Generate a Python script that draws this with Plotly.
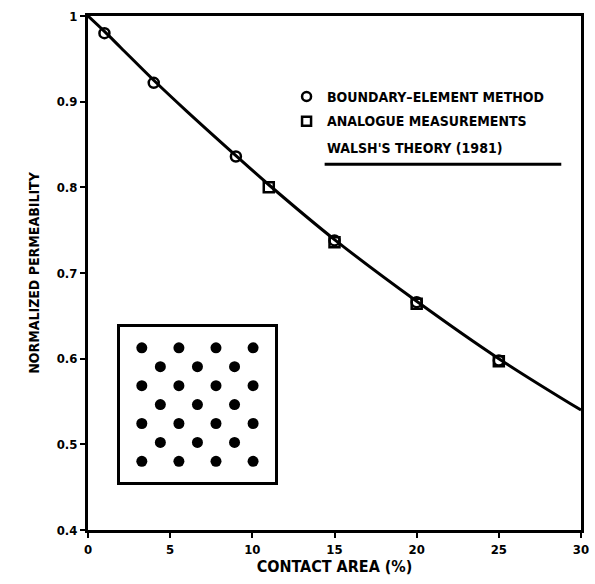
import plotly.graph_objects as go

# Walsh's theory (1981): normalized permeability vs contact area
theory_x = [0, 1, 2, 4, 6, 9, 11, 15, 20, 25, 30]
theory_y = [1.0, 0.982, 0.963, 0.925, 0.889, 0.837, 0.803, 0.739, 0.667, 0.600, 0.540]

# Boundary-element method results
bem_x = [1, 4, 9, 15, 20, 25]
bem_y = [0.980, 0.922, 0.836, 0.738, 0.666, 0.598]

# Analogue measurements
ana_x = [11, 15, 20, 25]
ana_y = [0.800, 0.736, 0.664, 0.597]

x_ticks = [0, 5, 10, 15, 20, 25, 30]
y_ticks = [0.4, 0.5, 0.6, 0.7, 0.8, 0.9, 1.0]
y_tick_text = ["0.4", "0.5", "0.6", "0.7", "0.8", "0.9", "1"]

# Staggered contact-spot lattice shown in the inset
long_row_x = [1, 3, 5, 7]
short_row_x = [2, 4, 6]
row_y = [7, 6, 5, 4, 3, 2, 1]

FONT = "Liberation Sans Narrow, DejaVu Sans Condensed, Arial, sans-serif"

fig = go.Figure()

fig.add_trace(go.Scatter(
    x=theory_x, y=theory_y, mode="lines",
    line=dict(color="black", width=3, shape="spline"),
    showlegend=False, hoverinfo="skip"))

fig.add_trace(go.Scatter(
    x=bem_x, y=bem_y, mode="markers",
    marker=dict(symbol="circle-open", size=10, color="black", line=dict(width=2.5)),
    showlegend=False))

fig.add_trace(go.Scatter(
    x=ana_x, y=ana_y, mode="markers",
    marker=dict(symbol="square-open", size=10, color="black", line=dict(width=2.5)),
    showlegend=False))

# Inset lattice
dots_x, dots_y = [], []
for i, ry in enumerate(row_y):
    cols = long_row_x if i % 2 == 0 else short_row_x
    for cx in cols:
        dots_x.append(cx)
        dots_y.append(ry)

fig.add_trace(go.Scatter(
    x=dots_x, y=dots_y, mode="markers", xaxis="x2", yaxis="y2",
    marker=dict(symbol="circle", size=11, color="black"),
    showlegend=False, hoverinfo="skip"))

# Legend drawn inside the plot area
fig.add_trace(go.Scatter(
    x=[13.3], y=[0.906], mode="markers",
    marker=dict(symbol="circle-open", size=9, color="black", line=dict(width=2.5)),
    showlegend=False, hoverinfo="skip"))
fig.add_trace(go.Scatter(
    x=[13.3], y=[0.877], mode="markers",
    marker=dict(symbol="square-open", size=9, color="black", line=dict(width=2.5)),
    showlegend=False, hoverinfo="skip"))
fig.add_trace(go.Scatter(
    x=[14.4, 28.8], y=[0.827, 0.827], mode="lines",
    line=dict(color="black", width=3),
    showlegend=False, hoverinfo="skip"))

legend_font = dict(family=FONT, size=14, color="black", weight="bold")
fig.add_annotation(x=14.4, y=0.906, text="BOUNDARY–ELEMENT METHOD", showarrow=False,
                   xanchor="left", yanchor="middle", font=legend_font)
fig.add_annotation(x=14.4, y=0.877, text="ANALOGUE MEASUREMENTS", showarrow=False,
                   xanchor="left", yanchor="middle", font=legend_font)
fig.add_annotation(x=14.4, y=0.846, text="WALSH'S THEORY (1981)", showarrow=False,
                   xanchor="left", yanchor="middle", font=legend_font)

axis_common = dict(
    showline=True, linecolor="black", linewidth=3, mirror=True,
    ticks="outside", ticklen=5, tickwidth=2, tickcolor="black",
    showgrid=False, zeroline=False,
    tickfont=dict(family=FONT, size=13, color="black", weight="bold"),
)

fig.update_layout(
    width=595, height=584,
    margin=dict(l=88, r=6, t=16, b=54),
    paper_bgcolor="white", plot_bgcolor="white",
    xaxis=dict(range=[0, 30], tickvals=x_ticks, ticktext=[str(v) for v in x_ticks],
               title=dict(text="CONTACT AREA (%)", standoff=6,
                          font=dict(family=FONT, size=16, color="black", weight="bold")),
               **axis_common),
    yaxis=dict(range=[0.4, 1.0], tickvals=y_ticks, ticktext=y_tick_text,
               title=dict(text="NORMALIZED PERMEABILITY", standoff=14,
                          font=dict(family=FONT, size=14, color="black", weight="bold")),
               **axis_common),
    xaxis2=dict(domain=[0.064, 0.38], anchor="y2", range=[-0.2, 8.2],
                showline=True, mirror=True, linecolor="black", linewidth=3,
                showticklabels=False, ticks="", showgrid=False, zeroline=False),
    yaxis2=dict(domain=[0.093, 0.395], anchor="x2", range=[-0.1, 8.1],
                showline=True, mirror=True, linecolor="black", linewidth=3,
                showticklabels=False, ticks="", showgrid=False, zeroline=False),
)

fig.write_html("out.html")
